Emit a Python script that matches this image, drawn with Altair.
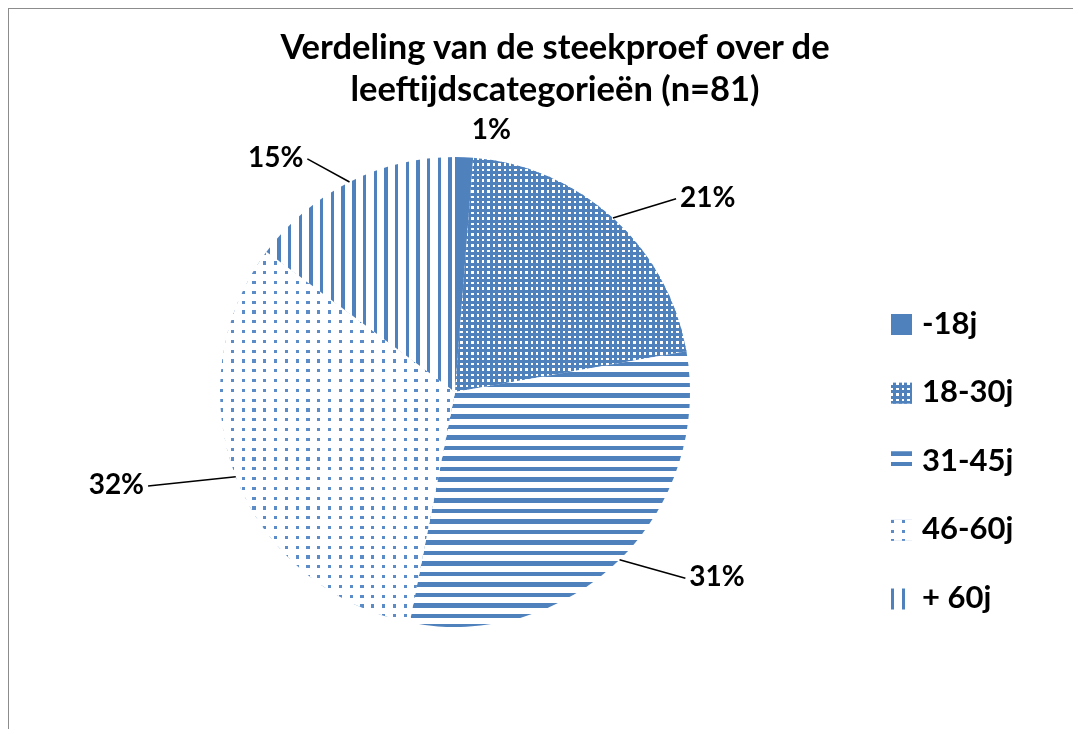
import math
import altair as alt
import pandas as pd

# ---- data -------------------------------------------------------------
categories = ["-18j", "18-30j", "31-45j", "46-60j", "+ 60j"]
counts = [1, 17, 25, 26, 12]
title_lines = ["Verdeling van de steekproef over de", "leeftijdscategorieën (n=81)"]

df = pd.DataFrame({"cat": categories, "count": counts,
                   "order": list(range(len(categories)))})

# ---- layout / style ---------------------------------------------------
W, H = 1065, 721
CX, CY, R = 447, 384, 235
BLUE = "#4f81bd"
WHITE = "#ffffff"
FONT = "Lato"
LEG_SQ = 21


def slice_bbox(a0, a1, r):
    angs = [a0, a1] + [k * math.pi / 2 for k in range(5) if a0 < k * math.pi / 2 < a1]
    xs = [0.0] + [r * math.sin(a) for a in angs]
    ys = [0.0] + [-r * math.cos(a) for a in angs]
    return max(xs) - min(xs), max(ys) - min(ys)


def stripes(length, period, on_frac, on, off, along_x):
    n = max(1.0, length / period)
    stops = []
    k = 0
    while k / n < 1:
        s = k / n
        e1 = min(1.0, (k + on_frac) / n)
        e2 = min(1.0, (k + 1) / n)
        stops += [alt.GradientStop(color=on, offset=s),
                  alt.GradientStop(color=on, offset=e1),
                  alt.GradientStop(color=off, offset=e1),
                  alt.GradientStop(color=off, offset=e2)]
        k += 1
    if along_x:
        return alt.LinearGradient(gradient="linear", stops=stops, x1=0, x2=1, y1=0, y2=0)
    return alt.LinearGradient(gradient="linear", stops=stops, x1=0, x2=0, y1=0, y2=1)


def fills(cat, w, h):
    """list of (fill, blend) layers that imitate the Excel pattern fills"""
    if cat == "-18j":
        return [(BLUE, None)]
    if cat == "18-30j":
        return [(stripes(h, 5.4, 0.45, WHITE, BLUE, False), None),
                (stripes(w, 5.4, 0.45, WHITE, BLUE, True), "darken")]
    if cat == "31-45j":
        return [(stripes(h, 10.5, 0.45, BLUE, WHITE, False), None)]
    if cat == "46-60j":
        return [(stripes(h, 9.8, 0.32, "#5b8cc8", WHITE, False), None),
                (stripes(w, 10.8, 0.30, "#5b8cc8", WHITE, True), "lighten")]
    return [(stripes(w, 10.7, 0.32, BLUE, WHITE, True), None)]


total = sum(counts)
angles = []
acc = 0
for c in counts:
    angles.append((2 * math.pi * acc / total, 2 * math.pi * (acc + c) / total))
    acc += c

base = (
    alt.Chart(df)
    .transform_window(cum="sum(count)", sort=[alt.SortField("order")], frame=[None, 0])
    .transform_joinaggregate(total="sum(count)")
    .transform_calculate(start="(datum.cum - datum.count) / datum.total",
                         end="datum.cum / datum.total")
    .transform_calculate(mid="PI * (datum.start + datum.end)",
                         pct="format(datum.count / datum.total, '.0%')")
    .transform_calculate(ex1="sin(datum.mid)", ey1="cos(datum.mid)",
                         ex2="1.4 * sin(datum.mid)", ey2="1.11 * cos(datum.mid)")
)

XS = alt.Scale(domain=[-1, 1], range=[CX - R, CX + R])
YS = alt.Scale(domain=[-1, 1], range=[CY + R, CY - R])
LEG_Y = alt.Scale(domain=[0, len(categories) - 1], range=[316.5, 591])

layers = []

# frame
one = pd.DataFrame({"t": [0]})
layers.append(alt.Chart(one).mark_rule(color="#8c8c8c", strokeWidth=2).encode(
    x=alt.value(0), x2=alt.value(W), y=alt.value(0)))
layers.append(alt.Chart(one).mark_rule(color="#8c8c8c", strokeWidth=2).encode(
    x=alt.value(0), y=alt.value(0), y2=alt.value(H)))

# pie slices
for cat, (a0, a1) in zip(categories, angles):
    w, h = slice_bbox(a0, a1, R)
    for fill, blend in fills(cat, w, h):
        kw = dict(outerRadius=R, fill=fill, strokeWidth=0, opacity=1)
        if blend:
            kw["blend"] = blend
        layers.append(
            base.transform_filter(alt.datum.cat == cat)
            .mark_arc(**kw)
            .encode(theta=alt.Theta("start:Q", scale=alt.Scale(domain=[0, 1])),
                    theta2="end:Q", x=alt.value(CX), y=alt.value(CY))
        )

# leader lines
layers.append(
    base.transform_filter("datum.count / datum.total >= 0.05")
    .mark_rule(color="black", strokeWidth=1.5)
    .encode(x=alt.X("ex1:Q", scale=XS, axis=None), y=alt.Y("ey1:Q", scale=YS, axis=None),
            x2="ex2:Q", y2="ey2:Q")
)

# percentage labels
lab = dict(baseline="middle", font=FONT, fontSize=28, fontWeight="bold", color="black")
layers.append(
    base.transform_filter("datum.ex1 >= 0")
    .mark_text(align="left", dx=4, **lab)
    .encode(x=alt.X("ex2:Q", scale=XS, axis=None), y=alt.Y("ey2:Q", scale=YS, axis=None),
            text="pct:N")
)
layers.append(
    base.transform_filter("datum.ex1 < 0")
    .mark_text(align="right", dx=-4, **lab)
    .encode(x=alt.X("ex2:Q", scale=XS, axis=None), y=alt.Y("ey2:Q", scale=YS, axis=None),
            text="pct:N")
)

# legend
for cat in categories:
    for fill, blend in fills(cat, LEG_SQ, LEG_SQ):
        kw = dict(size=LEG_SQ * LEG_SQ, fill=fill, strokeWidth=0, opacity=1, filled=True)
        if blend:
            kw["blend"] = blend
        layers.append(
            alt.Chart(df).transform_filter(alt.datum.cat == cat)
            .mark_square(**kw)
            .encode(x=alt.value(893.5), y=alt.Y("order:Q", scale=LEG_Y, axis=None))
        )
layers.append(
    alt.Chart(df).mark_text(align="left", baseline="middle", font=FONT, fontSize=31,
                            fontWeight="bold", color="black")
    .encode(x=alt.value(914), y=alt.Y("order:Q", scale=LEG_Y, axis=None), text="cat:N")
)

# title
layers.append(
    alt.Chart(one).mark_text(text=title_lines, align="center", baseline="alphabetic",
                             lineHeight=42, font=FONT, fontSize=34.5, fontWeight="bold",
                             color="black")
    .encode(x=alt.value(547), y=alt.value(51))
)

chart = (
    alt.layer(*layers)
    .resolve_scale(x="independent", y="independent")
    .properties(width=W, height=H, padding=0, autosize="none", background="white")
    .configure_view(stroke=None)
)

chart.save("out.html", embed_options={"renderer": "svg", "actions": False})
